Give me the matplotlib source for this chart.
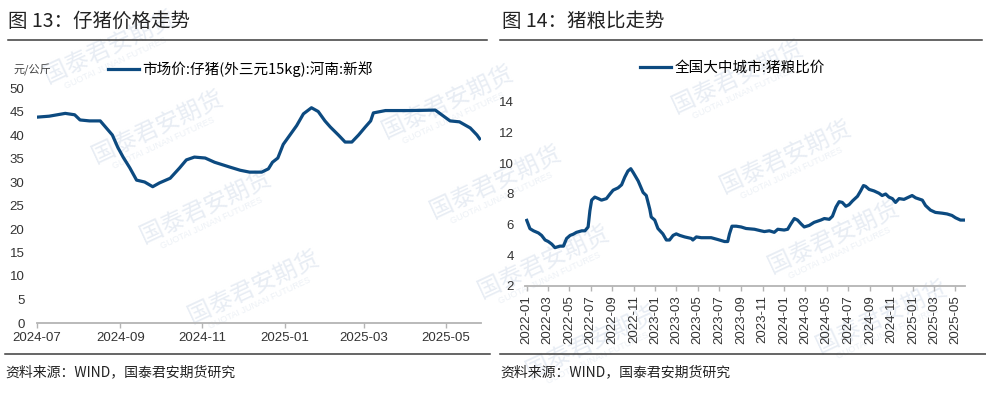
import numpy as np
import pandas as pd
import matplotlib
matplotlib.use('Agg')
import matplotlib.pyplot as plt
import matplotlib.dates as mdates
from matplotlib.lines import Line2D

plt.rcParams['font.family'] = ['Liberation Sans', 'Noto Sans CJK SC', 'DejaVu Sans']
CJK = ['Noto Sans CJK SC', 'DejaVu Sans']

# 图13 仔猪价格 (元/公斤)
piglet_dates = ['2024-07-01', '2024-07-10', '2024-07-22', '2024-07-29', '2024-08-02',
                '2024-08-09', '2024-08-17', '2024-08-20', '2024-08-26', '2024-08-30',
                '2024-09-03', '2024-09-08', '2024-09-13', '2024-09-19', '2024-09-25',
                '2024-09-30', '2024-10-08', '2024-10-15', '2024-10-20', '2024-10-26',
                '2024-11-03', '2024-11-10', '2024-11-21', '2024-11-29', '2024-12-06',
                '2024-12-15', '2024-12-20', '2024-12-23', '2024-12-27', '2024-12-31',
                '2025-01-05', '2025-01-10', '2025-01-15', '2025-01-21', '2025-01-26',
                '2025-01-31', '2025-02-04', '2025-02-10', '2025-02-15', '2025-02-20',
                '2025-02-25', '2025-03-02', '2025-03-06', '2025-03-08', '2025-03-17',
                '2025-04-04', '2025-04-23', '2025-05-04', '2025-05-11', '2025-05-19',
                '2025-05-24', '2025-05-26']
piglet_price = [43.8, 44.0, 44.6, 44.3, 43.2,
                43.0, 43.0, 42.0, 40.0, 37.4,
                35.3, 33.0, 30.4, 30.0, 29.0,
                29.8, 30.8, 33.0, 34.7, 35.3,
                35.1, 34.2, 33.2, 32.5, 32.1,
                32.1, 32.8, 34.2, 35.1, 38.0,
                40.0, 42.0, 44.5, 45.8, 45.0,
                43.0, 41.7, 40.0, 38.5, 38.5,
                40.0, 41.7, 43.0, 44.7, 45.2,
                45.2, 45.3, 43.0, 42.8, 41.5,
                40.0, 39.2]

# 图14 猪粮比
ratio_dates = ['2022-01-01', '2022-01-10', '2022-01-20', '2022-02-03', '2022-02-12',
               '2022-02-22', '2022-03-03', '2022-03-13', '2022-03-22', '2022-04-05',
               '2022-04-15', '2022-04-24', '2022-05-04', '2022-05-13', '2022-05-22',
               '2022-06-06', '2022-06-15', '2022-06-24', '2022-06-29', '2022-07-04',
               '2022-07-13', '2022-07-23', '2022-08-01', '2022-08-15', '2022-08-25',
               '2022-09-03', '2022-09-17', '2022-09-27', '2022-10-06', '2022-10-15',
               '2022-10-23', '2022-10-30', '2022-11-13', '2022-11-27', '2022-12-06',
               '2022-12-16', '2022-12-20', '2022-12-30', '2023-01-08', '2023-01-22',
               '2023-02-01', '2023-02-10', '2023-02-20', '2023-03-01', '2023-03-11',
               '2023-03-25', '2023-04-13', '2023-04-17', '2023-04-27', '2023-05-11',
               '2023-06-08', '2023-06-27', '2023-07-16', '2023-07-25', '2023-07-30',
               '2023-08-06', '2023-08-18', '2023-09-01', '2023-09-15', '2023-10-09',
               '2023-10-27', '2023-11-06', '2023-11-20', '2023-12-04', '2023-12-14',
               '2024-01-01', '2024-01-11', '2024-01-20', '2024-01-30', '2024-02-08',
               '2024-02-18', '2024-02-27', '2024-03-12', '2024-03-26', '2024-04-14',
               '2024-04-24', '2024-05-08', '2024-05-17', '2024-05-27', '2024-06-05',
               '2024-06-14', '2024-06-24', '2024-07-03', '2024-07-13', '2024-07-27',
               '2024-08-05', '2024-08-13', '2024-08-19', '2024-08-29', '2024-09-12',
               '2024-09-26', '2024-10-05', '2024-10-15', '2024-10-24', '2024-11-03',
               '2024-11-12', '2024-11-22', '2024-12-06', '2024-12-15', '2024-12-29',
               '2025-01-08', '2025-01-27', '2025-02-05', '2025-02-19', '2025-03-05',
               '2025-03-24', '2025-04-07', '2025-04-21', '2025-05-01', '2025-05-15',
               '2025-05-24']
ratio_value = [6.28, 5.74, 5.6, 5.46, 5.3,
               5.0, 4.9, 4.73, 4.5, 4.6,
               4.6, 5.1, 5.3, 5.38, 5.5,
               5.6, 5.6, 5.85, 6.9, 7.6,
               7.8, 7.7, 7.6, 7.7, 8.0,
               8.25, 8.4, 8.6, 9.1, 9.5,
               9.65, 9.4, 8.85, 8.1, 7.9,
               7.0, 6.5, 6.3, 5.75, 5.4,
               5.0, 5.0, 5.3, 5.4, 5.3,
               5.2, 5.1, 5.0, 5.2, 5.15,
               5.15, 5.03, 4.9, 4.9, 5.4,
               5.9, 5.9, 5.85, 5.75, 5.7,
               5.6, 5.55, 5.6, 5.5, 5.7,
               5.65, 5.7, 6.05, 6.4, 6.3,
               6.05, 5.85, 5.95, 6.15, 6.3,
               6.4, 6.35, 6.55, 7.15, 7.5,
               7.45, 7.2, 7.3, 7.55, 7.85,
               8.2, 8.55, 8.5, 8.3, 8.2,
               8.05, 7.9, 8.0, 7.8, 7.7,
               7.45, 7.7, 7.65, 7.75, 7.9,
               7.75, 7.6, 7.25, 6.95, 6.8,
               6.75, 6.7, 6.6, 6.45, 6.3,
               6.3]

line_color = '#0C4A80'
W, H = 987, 395


def fx(px):
    return px / W


def fy(py):
    return 1 - py / H


fig = plt.figure(figsize=(W / 100, H / 100), dpi=100)

# faint watermark, only where it fits fully inside the picture
for i in range(-3, 4):
    for j in range(-1, 4):
        cx = 158 + i * 48 + j * 290
        cy = 127 + i * 80 - j * 25
        if 75 < cx < W - 75 and 40 < cy < H - 40:
            fig.text(fx(cx), fy(cy), '国泰君安期货', family=CJK, fontsize=17,
                     color='#e8edf4', rotation=25, ha='center', va='center', zorder=-5)
            fig.text(fx(cx + 6), fy(cy + 16), 'GUOTAI JUNAN FUTURES', fontsize=6.5,
                     color='#edf1f6', rotation=25, ha='center', va='center', zorder=-5)

# titles and rules
fig.text(fx(8), fy(21), '图 13：仔猪价格走势', family=CJK, fontsize=14, color='#222222', va='center')
fig.text(fx(502), fy(21), '图 14：猪粮比走势', family=CJK, fontsize=14, color='#222222', va='center')
for x0, x1, yy in [(8, 487, 40), (500, 982, 40), (5, 490, 354), (500, 987, 354)]:
    fig.add_artist(Line2D([fx(x0), fx(x1)], [fy(yy), fy(yy)], color='#3c3c3c', lw=1.1,
                          transform=fig.transFigure))
fig.text(fx(5), fy(372), '资料来源：WIND，国泰君安期货研究', family=CJK, fontsize=10, color='#222222', va='center')
fig.text(fx(500), fy(372), '资料来源：WIND，国泰君安期货研究', family=CJK, fontsize=10, color='#222222', va='center')

ax1 = fig.add_axes([fx(37), fy(323), (481 - 37) / W, (323 - 88) / H])
ax2 = fig.add_axes([fx(525), fy(286), (965 - 525) / W, (286 - 102) / H])

l1, = ax1.plot(pd.to_datetime(piglet_dates), piglet_price, color=line_color, lw=2.3,
               solid_joinstyle='round')
ax1.set_ylim(0, 50)
ax1.set_yticks(np.arange(0, 51, 5))
ax1.set_xlim(pd.Timestamp('2024-07-01'), pd.Timestamp('2025-05-27'))

l2, = ax2.plot(pd.to_datetime(ratio_dates), ratio_value, color=line_color, lw=2.3,
               solid_joinstyle='round')
ax2.set_ylim(2, 14)
ax2.set_yticks(np.arange(2, 15, 2))
ax2.set_xlim(pd.Timestamp('2021-12-27'), pd.Timestamp('2025-05-28'))

for ax in (ax1, ax2):
    ax.set_facecolor('none')
    for s in ('left', 'top', 'right'):
        ax.spines[s].set_visible(False)
    ax.spines['bottom'].set_color('#b4b4b4')
    ax.spines['bottom'].set_linewidth(1.3)
    ax.xaxis.set_major_locator(mdates.MonthLocator(bymonth=[1, 3, 5, 7, 9, 11]))
    ax.xaxis.set_major_formatter(mdates.DateFormatter('%Y-%m'))
    ax.tick_params(axis='x', length=3.5, width=1, color='#b4b4b4', labelsize=9.5,
                   labelcolor='#333333', pad=3)
    ax.tick_params(axis='y', length=0, labelsize=9.5, labelcolor='#333333')

ax1.tick_params(axis='y', pad=9)
ax2.tick_params(axis='y', pad=8)
ax2.tick_params(axis='x', labelrotation=90, pad=3)

fig.text(fx(13), fy(70), '元/公斤', family=CJK, fontsize=8, color='#444444', va='center')

ax1.legend([l1], ['市场价:仔猪(外三元15kg):河南:新郑'], loc='center left',
           bbox_to_anchor=(fx(108), fy(69)), bbox_transform=fig.transFigure,
           frameon=False, handlelength=2.1, handletextpad=0.25, borderpad=0, borderaxespad=0,
           prop={'family': CJK, 'size': 10.5})
ax2.legend([l2], ['全国大中城市:猪粮比价'], loc='center left',
           bbox_to_anchor=(fx(640), fy(68)), bbox_transform=fig.transFigure,
           frameon=False, handlelength=2.1, handletextpad=0.25, borderpad=0, borderaxespad=0,
           prop={'family': CJK, 'size': 10.5})

fig.savefig('out.png', dpi=100)
